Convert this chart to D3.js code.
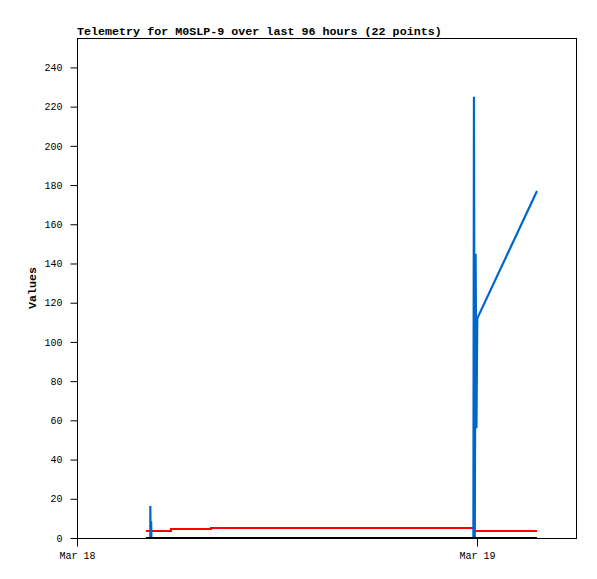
<!DOCTYPE html>
<html><head><meta charset="utf-8">
<script src="https://cdn.jsdelivr.net/npm/d3@7"></script>
<style>
body{margin:0;background:#fff;}
svg{display:block;}
</style></head>
<body>
<svg id="c" width="597" height="579"></svg>
<script>
const title = "Telemetry for M0SLP-9 over last 96 hours (22 points)";
const yLabel = "Values";
const xTicks = ["2024-03-18T00:00", "2024-03-19T00:00"];
const xDomain = ["2024-03-18T00:00", "2024-03-19T06:00"];
const yTicks = [0,20,40,60,80,100,120,140,160,180,200,220,240];
const yMax = 255;

// series: times (UTC) and values
const blueTimes = ["2024-03-18T04:08","2024-03-18T04:24","2024-03-18T04:24","2024-03-18T04:25","2024-03-18T04:26","2024-03-18T04:27","2024-03-18T04:28",
  "2024-03-18T23:47","2024-03-18T23:49","2024-03-18T23:52","2024-03-18T23:55","2024-03-18T23:58","2024-03-19T00:01","2024-03-19T03:36"];
const blueValues = [0,0,16.3,0,8.3,8.3,0,0,225,0,145,56,112,177];

const redTimes = ["2024-03-18T04:08","2024-03-18T05:38","2024-03-18T08:02","2024-03-18T23:50","2024-03-19T03:36"];
const redValues = [3.7,4.4,4.9,3.7,3.7];

const blackTimes = ["2024-03-18T04:08","2024-03-19T03:36"];
const blackValues = [0,0];

const parse = d3.utcParse("%Y-%m-%dT%H:%M");
const svg = d3.select("#c");
const L=77, R=577, T=38, B=538;
const x = d3.scaleUtc().domain(xDomain.map(parse)).range([L,R]);
const y = d3.scaleLinear().domain([0,yMax]).range([B,T]);

const font = "'Liberation Mono','DejaVu Sans Mono',monospace";

svg.append("text").attr("x",L).attr("y",35).attr("font-family",font).attr("font-weight","bold")
  .attr("font-size","11.7px").text(title);

// frame
svg.append("rect").attr("x",L+0.5).attr("y",T+0.5).attr("width",R-L-1).attr("height",B-T)
  .attr("fill","none").attr("stroke","#000").attr("stroke-width",1);

function series(times, vals){ return times.map((t,i)=>({t:parse(t), v:vals[i]})); }
const line = d3.line().x(d=>x(d.t)).y(d=>y(d.v));
const stepLine = d3.line().x(d=>x(d.t)).y(d=>y(d.v)).curve(d3.curveStepAfter);

svg.append("path").datum(series(redTimes,redValues)).attr("d",stepLine)
  .attr("fill","none").attr("stroke","#ff0000").attr("stroke-width",2.2).attr("shape-rendering","crispEdges");
svg.append("path").datum(series(blueTimes,blueValues)).attr("d",line)
  .attr("fill","none").attr("stroke","#0066cc").attr("stroke-width",2.2).attr("stroke-linejoin","miter").attr("stroke-miterlimit",1);
svg.append("path").datum(series(blackTimes,blackValues)).attr("d",line)
  .attr("fill","none").attr("stroke","#000").attr("stroke-width",2).attr("transform","translate(0,-0.5)").attr("shape-rendering","crispEdges");

// y axis
const ya = svg.append("g").attr("transform",`translate(${L+0.5},0)`)
  .call(d3.axisLeft(y).tickValues(yTicks).tickSize(7).tickPadding(8).tickSizeOuter(0));
ya.select(".domain").remove();
ya.selectAll("text").attr("font-family",font).attr("font-size","10px").attr("fill","#000");

// x axis
const xa = svg.append("g").attr("transform",`translate(0,${B+0.5})`)
  .call(d3.axisBottom(x).tickValues(xTicks.map(parse)).tickFormat(d3.utcFormat("%b %d")).tickSize(8).tickPadding(5).tickSizeOuter(0));
xa.select(".domain").remove();
xa.selectAll("text").attr("font-family",font).attr("font-size","10px").attr("fill","#000");

svg.append("text").attr("transform",`translate(36,${(T+B)/2}) rotate(-90)`).attr("text-anchor","middle")
  .attr("font-family",font).attr("font-weight","bold").attr("font-size","11.7px").text(yLabel);
</script>
</body></html>
